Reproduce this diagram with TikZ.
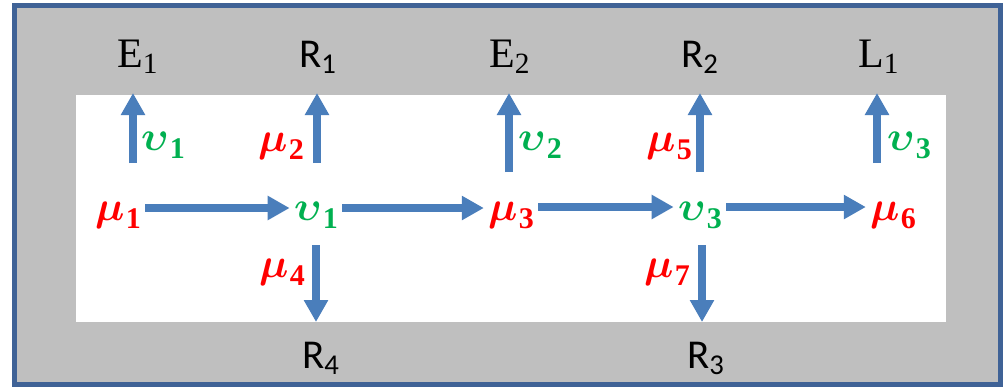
\documentclass[tikz,border=0pt]{standalone}
\usepackage{amsmath,bm}
\usepackage[no-math]{fontspec}
\newfontfamily\serlab{Liberation Serif}
\newfontfamily\sanlab{Carlito}
\usetikzlibrary{arrows.meta}
\definecolor{frameblue}{HTML}{3F6296}
\definecolor{framegrey}{HTML}{BFBFBF}
\definecolor{arrowblue}{HTML}{4A7EBB}
\definecolor{mured}{HTML}{FF0000}
\definecolor{upsgreen}{HTML}{00B050}
\newcommand{\gsym}[2]{$\boldsymbol{#1}$\kern0.6pt\raisebox{-4pt}{\serlab\bfseries\fontsize{15pt}{15pt}\selectfont #2}}
\begin{document}
\begin{tikzpicture}[x=0.5pt,y=-0.5pt,
  arr/.style={draw=arrowblue, line width=4pt, -{Triangle[width=11.5pt,length=11pt]}},
  serlbl/.style={anchor=base, inner sep=0pt, font=\serlab\fontsize{21pt}{21pt}\selectfont},
  sanlbl/.style={anchor=base, inner sep=0pt, font=\sanlab\fontsize{20.5pt}{21pt}\selectfont},
  mulbl/.style={anchor=base, inner sep=2pt, text=mured, font=\fontsize{20.74pt}{21pt}\selectfont},
  upslbl/.style={anchor=base, inner sep=2pt, text=upsgreen, font=\fontsize{20.74pt}{21pt}\selectfont}]
\useasboundingbox (0,0) rectangle (1007,388);
% frame
\fill[framegrey] (14.5,5.5) rectangle (1000.5,384);
\draw[frameblue, line width=2.5pt] (14.5,5.5) rectangle (1000.5,384);
\fill[white] (76,95) rectangle (946,322);
% outer labels
\node[serlbl] (E1) at (138,67) {E\textsubscript{1}};
\node[sanlbl] (R1) at (318,67) {R\textsubscript{1}};
\node[serlbl] (E2) at (510,67) {E\textsubscript{2}};
\node[sanlbl] (R2) at (700,67) {R\textsubscript{2}};
\node[serlbl] (L1) at (879,67) {L\textsubscript{1}};
\node[sanlbl] (R4) at (321,368) {R\textsubscript{4}};
\node[sanlbl] (R3) at (706,368) {R\textsubscript{3}};
% main row
\node[mulbl] (mu1) at (118,220) {\gsym{\mu}{1}};
\node[upslbl] (v1) at (316,220) {\gsym{\upsilon}{1}};
\node[mulbl] (mu3) at (511,220) {\gsym{\mu}{3}};
\node[upslbl] (v3) at (700,220) {\gsym{\upsilon}{3}};
\node[mulbl] (mu6) at (893,220) {\gsym{\mu}{6}};
% arrow labels
\node[upslbl] (lv1) at (163,150) {\gsym{\upsilon}{1}};
\node[mulbl] (lmu2) at (281,151) {\gsym{\mu}{2}};
\node[upslbl] (lv2) at (540,150) {\gsym{\upsilon}{2}};
\node[mulbl] (lmu5) at (669,151) {\gsym{\mu}{5}};
\node[upslbl] (lv3) at (909,150) {\gsym{\upsilon}{3}};
\node[mulbl] (lmu4) at (282,277) {\gsym{\mu}{4}};
\node[mulbl] (lmu7) at (667,277) {\gsym{\mu}{7}};
% horizontal arrows
\draw[arr] ([yshift=6pt]mu1.base east) -- ([yshift=6pt]v1.base west);
\draw[arr] ([yshift=6pt]v1.base east) -- ([yshift=6pt]mu3.base west);
\draw[arr] ([yshift=6.5pt]mu3.base east) -- ([yshift=6.5pt]v3.base west);
\draw[arr] ([yshift=6.5pt]v3.base east) -- ([yshift=6.5pt]mu6.base west);
% vertical arrows
\coordinate (uE1) at (133,163);
\coordinate (uR1) at (317,163);
\coordinate (uE2) at (509,172);
\coordinate (uR2) at (700,172);
\coordinate (uL1) at (877,163);
\coordinate (dR4) at (316,245);
\coordinate (dR3) at (702,245);
\draw[arr, shorten >=13pt] (uE1) -- (uE1 |- E1.base);
\draw[arr, shorten >=13pt] (uR1) -- (uR1 |- R1.base);
\draw[arr, shorten >=13pt] (uE2) -- (uE2 |- E2.base);
\draw[arr, shorten >=13pt] (uR2) -- (uR2 |- R2.base);
\draw[arr, shorten >=13pt] (uL1) -- (uL1 |- L1.base);
\draw[arr, shorten >=23pt] (dR4) -- (dR4 |- R4.base);
\draw[arr, shorten >=23pt] (dR3) -- (dR3 |- R3.base);
\end{tikzpicture}
\end{document}
